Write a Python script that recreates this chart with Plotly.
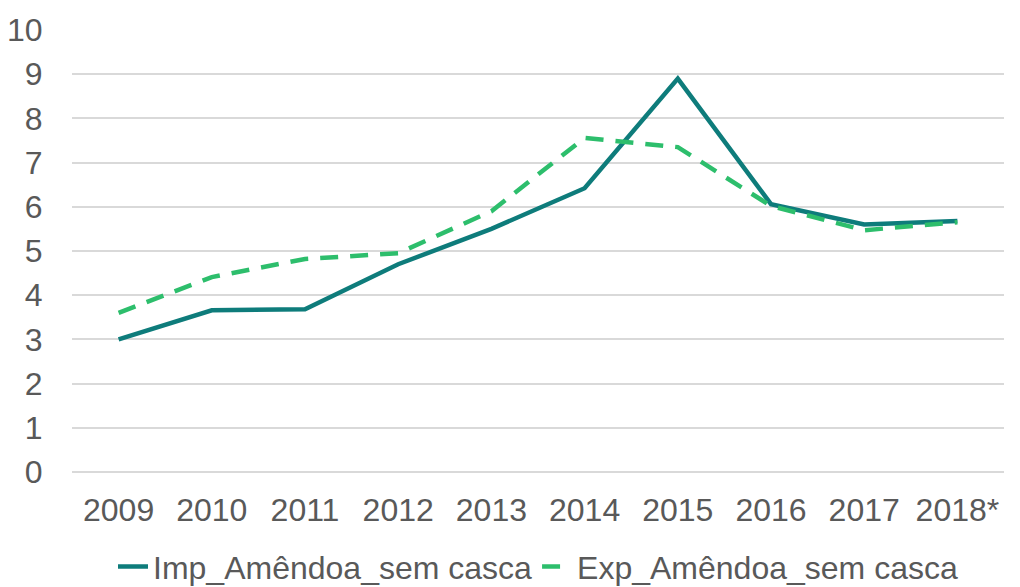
import plotly.graph_objects as go

years = ["2009", "2010", "2011", "2012", "2013", "2014", "2015", "2016", "2017", "2018*"]
imp_values = [3.0, 3.66, 3.68, 4.7, 5.5, 6.42, 8.9, 6.06, 5.6, 5.68]
exp_values = [3.6, 4.41, 4.82, 4.95, 5.9, 7.56, 7.35, 6.02, 5.47, 5.65]

IMP_COLOR = "#0E7C7B"
EXP_COLOR = "#2DBE6C"
GRID_COLOR = "#D9D9D9"
FONT_COLOR = "#595959"
FONT_SIZE = 32

fig = go.Figure()
fig.add_trace(go.Scatter(
    x=years, y=imp_values, mode="lines",
    name="Imp_Amêndoa_sem casca",
    line=dict(color=IMP_COLOR, width=4.5),
))
fig.add_trace(go.Scatter(
    x=years, y=exp_values, mode="lines",
    name="Exp_Amêndoa_sem casca",
    line=dict(color=EXP_COLOR, width=4.5, dash="18px,12px"),
))

# page body has an 8px margin, so the figure is sized/offset to compensate
fig.update_layout(
    width=1012, height=579,
    paper_bgcolor="white", plot_bgcolor="white",
    font=dict(family="Liberation Sans, Arial, sans-serif", color=FONT_COLOR, size=FONT_SIZE),
    margin=dict(l=64, r=16, t=22, b=115),
    xaxis=dict(
        type="category", range=[-0.5, 9.5], automargin=False,
        showgrid=False, showline=False,
        ticks="outside", ticklen=10, tickcolor="rgba(0,0,0,0)",
        tickfont=dict(size=FONT_SIZE, color=FONT_COLOR),
    ),
    yaxis=dict(
        range=[0, 10], dtick=1, automargin=False,
        showgrid=True, gridcolor=GRID_COLOR, gridwidth=1.5,
        zeroline=True, zerolinecolor=GRID_COLOR, zerolinewidth=1.5,
        showline=False, ticks="outside", ticklen=22, tickcolor="rgba(0,0,0,0)",
        tickfont=dict(size=FONT_SIZE, color=FONT_COLOR),
    ),
    legend=dict(
        orientation="h", x=0.5, xanchor="center",
        yref="container", y=0.035, yanchor="middle",
        font=dict(size=FONT_SIZE, color=FONT_COLOR),
        traceorder="normal",
    ),
    showlegend=True,
)

fig.write_html("out.html")
